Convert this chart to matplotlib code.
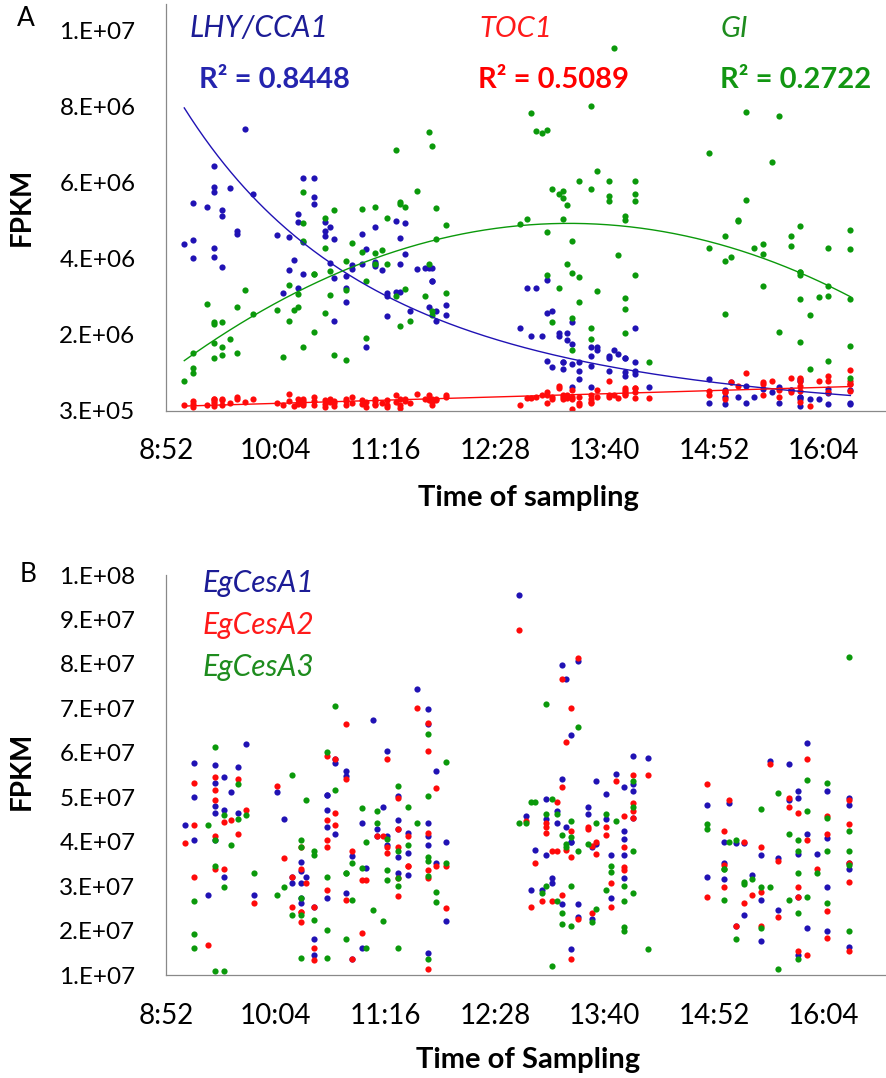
import numpy as np
import matplotlib
matplotlib.use("Agg")
import matplotlib.pyplot as plt

plt.rcParams['font.family'] = ['Lato', 'DejaVu Sans']
nan = np.nan

# ---------------- Panel A: clock genes (FPKM, millions) ----------------
a_time = [
    9.08, 9.18, 9.18, 9.18, 9.33, 9.41, 9.41, 9.41, 9.41, 9.41, 9.49, 9.49, 9.49,
    9.58, 9.66, 9.66, 9.75, 9.83,
    10.09, 10.16, 10.23, 10.23, 10.28, 10.33, 10.33, 10.33, 10.38, 10.38, 10.38, 10.38,
    10.50, 10.50, 10.50, 10.62, 10.62, 10.62, 10.67, 10.67, 10.72, 10.72, 10.72,
    10.85, 10.85, 10.85, 10.92, 10.92, 11.02, 11.02, 11.07, 11.07,
    11.17, 11.17, 11.17, 11.17, 11.24, 11.30, 11.30, 11.30, 11.40, 11.40,
    11.44, 11.44, 11.44, 11.50, 11.50, 11.55, 11.63, 11.72, 11.76, 11.76,
    11.79, 11.79, 11.79, 11.84, 11.84, 11.94, 11.94,
    12.75, 12.83, 12.88, 12.93, 12.99, 13.05, 13.05, 13.05, 13.11, 13.11,
    13.18, 13.18, 13.22, 13.22, 13.22, 13.27, 13.27, 13.32, 13.32, 13.32, 13.32,
    13.40, 13.40, 13.40, 13.53, 13.53, 13.53, 13.53, 13.60, 13.60,
    13.73, 13.73, 13.73, 13.78, 13.83, 13.90, 13.90, 13.90, 13.90, 13.90,
    14.01, 14.01, 14.01, 14.01, 14.17,
    14.82, 14.82, 15.00, 15.00, 15.00, 15.06, 15.14, 15.14, 15.23, 15.23, 15.31,
    15.41, 15.41, 15.41, 15.51, 15.59, 15.59, 15.72, 15.72,
    15.82, 15.82, 15.82, 15.82, 15.82, 15.82, 15.93, 15.93, 16.03,
    16.13, 16.13, 16.13, 16.13, 16.37, 16.37, 16.37, 16.37, 16.37,
]
lhy_cca1 = [
    4.68, 5.76, 4.79, 4.32, 5.65, 6.74, 6.19, 6.05, 4.58, 4.35, 5.57, 5.41, 4.07,
    6.17, 5.03, 4.94, 7.71, 5.99,
    4.92, 3.39, 4.88, 3.99, 4.27, 5.47, 5.27, 3.53, 6.42, 4.74, 3.90, nan,
    6.42, 5.93, 5.73, 5.27, 5.03, 4.90, 5.14, 4.19, 4.83, 3.78, 2.67,
    3.84, 3.53, 3.16, 4.02, 4.13, 4.16, 4.95, 4.56, 1.98,
    4.10, 4.16, 4.21, 5.14, 3.99, 3.33, 3.39, 2.79, 5.28, 3.41,
    4.16, 4.84, 3.41, 4.42, 5.24, 2.92, 4.02, 4.06, 4.06, 3.04,
    4.06, 3.71, 3.71, 2.92, 2.65, 2.83, 3.09,
    2.48, 3.52, 2.27, 3.52, 2.27, 3.74, 2.86, 1.62, 2.91, 1.45,
    2.27, 2.35, 1.58, 1.58, 1.40, 2.35, 2.16, 2.64, 2.06, 1.52, 0.92,
    1.58, 1.35, 1.13, 1.98, 1.73, 1.47, 0.92, 1.98, 1.89,
    1.73, 1.68, 1.35, 1.89, 1.78, 1.68, 1.68, 1.31, 1.22, nan,
    2.48, 1.58, 1.35, 1.27, 0.92,
    1.13, 0.51, 0.85, 0.65, 0.48, 1.05, 0.65, nan, 0.96, 0.51, 0.65,
    0.88, nan, nan, 0.79, 0.93, 0.51, 0.85, 0.85,
    1.13, 1.09, 0.60, 0.65, 0.43, 0.65, 0.60, nan, 0.60,
    0.88, 0.76, 0.48, nan, 0.85, 0.51, 0.48, nan, nan,
]
toc1 = [
    0.45, 0.48, 0.40, 0.55, 0.46, 0.50, 0.62, 0.55, 0.42, 0.60, 0.58, 0.62, 0.44,
    0.50, 0.65, 0.60, 0.52, 0.61,
    0.50, 0.44, 0.55, 0.73, 0.42, 0.50, 0.60, 0.47, 0.50, 0.56, 0.45, 0.62,
    0.55, 0.45, 0.66, 0.48, 0.58, 0.40, 0.52, 0.60, 0.42, 0.56, 0.50,
    0.55, 0.45, 0.60, 0.50, 0.65, 0.48, 0.58, 0.52, 0.40,
    0.60, 0.45, 0.55, 0.48, 0.50, 0.45, 0.58, 0.40, 0.70, 0.52,
    0.46, 0.60, 0.36, 0.62, 0.55, 0.50, 0.73, 0.60, 0.72, 0.58,
    0.45, 0.62, 0.52, 0.58, 0.62, 0.70, 0.66,
    0.44, 0.63, 0.63, 0.67, 0.72, 0.78, 0.49, 0.72, 0.67, 0.60,
    0.89, 0.96, 0.67, 0.72, 0.60, 0.63, 0.70, 0.85, 0.35, 0.67, 0.60,
    0.67, 0.49, 0.44, 0.54, 0.49, 0.60, 0.70, 0.85, 0.67,
    1.09, 0.72, 0.65, 0.72, 0.63, 0.89, 0.85, 0.75, 0.80, 0.70,
    0.89, 0.89, 0.63, 0.80, 0.63,
    0.82, 0.72, 0.79, 0.79, 0.60, 1.05, 0.96, nan, 1.28, nan, nan,
    1.05, 1.01, 0.72, 1.09, 0.85, 0.65, 0.79, 1.15,
    1.09, 1.15, 0.96, 0.82, 0.54, nan, 0.43, nan, 1.09,
    1.09, 1.22, 0.79, nan, 1.38, 1.09, 1.01, 1.01, 0.82,
]
gi = [
    1.08, 1.81, 1.42, 1.30, 3.10, 2.63, 2.58, 2.09, 1.68, nan, 2.63, 1.98, 1.76,
    2.19, 3.02, 1.81, 3.47, 2.84,
    2.95, 1.70, 3.61, 2.67, 2.95, 3.37, 3.02, nan, 6.05, 5.23, 4.77, 1.98,
    3.90, 3.90, 2.36, 5.38, 4.57, 2.88, 3.98, 3.34, 5.57, 1.76, nan,
    4.25, 3.48, 1.63, 4.72, nan, 4.48, 5.60, 3.71, 2.20,
    5.67, 4.44, 4.16, nan, 4.52, 5.36, 4.16, nan, 7.15, 3.33,
    5.73, 5.78, 2.53, 5.65, 3.51, 2.65, 6.08, 3.33, 4.16, 7.62,
    7.27, 2.92, 2.83, 5.63, 4.83, 5.19, 3.39,
    5.21, 5.35, 8.14, 7.66, 7.60, 7.69, 4.99, 3.87, 6.12, 2.64,
    6.01, 3.53, 6.07, 5.89, 5.35, 5.72, 4.15, 4.77, 3.93, 2.75, 1.89,
    6.34, 3.82, 3.16, 8.31, 6.12, 2.48, 2.19, 6.61, 3.44,
    6.34, 5.95, 5.81, 9.84, 4.40, 5.41, 5.32, 3.27, 2.98, 2.35,
    6.34, 6.01, 5.81, 3.87, 1.58,
    7.07, 4.58, 4.89, 4.23, 2.85, 4.34, 5.32, 5.28, 8.15, 5.84, 4.58,
    4.69, 4.41, 3.59, 6.84, 8.06, 2.36, 4.89, 4.63,
    3.86, 3.95, 3.95, 3.23, 2.10, 5.17, 2.81, 1.41, 3.28,
    3.59, 3.33, 4.58, 1.60, 5.05, 4.55, 3.23, 2.00, 1.15,
]

# ---------------- Panel B: cellulose synthase genes (FPKM, millions) ----------------
b_time = [
    9.09, 9.19, 9.19, 9.19, 9.34, 9.42, 9.42, 9.42, 9.42, 9.42, 9.51, 9.51, 9.51,
    9.59, 9.67, 9.67, 9.76, 9.84,
    10.10, 10.17, 10.26, 10.26, 10.36, 10.36, 10.36, 10.36, 10.36, 10.41,
    10.50, 10.50, 10.50, 10.64, 10.64, 10.64, 10.64, 10.64, 10.73, 10.73, 10.73,
    10.85, 10.85, 10.85, 10.92, 10.92, 11.02, 11.02, 11.07, 11.07, 11.15,
    11.19, 11.19, 11.25, 11.30, 11.30, 11.30, 11.42, 11.42, 11.42, 11.42, 11.42,
    11.53, 11.53, 11.53, 11.63, 11.75, 11.75, 11.75, 11.75, 11.75, 11.75,
    11.84, 11.84, 11.94, 11.94,
    12.74, 12.82, 12.88, 12.92, 12.99, 13.04, 13.04, 13.04, 13.10, 13.10,
    13.16, 13.16, 13.21, 13.21, 13.21, 13.26, 13.26, 13.31, 13.31, 13.31, 13.31,
    13.39, 13.39, 13.39, 13.50, 13.50, 13.54, 13.54, 13.59, 13.59, 13.70, 13.70,
    13.75, 13.75, 13.81, 13.89, 13.89, 13.89, 13.89, 13.89,
    13.99, 13.99, 13.99, 13.99, 14.15,
    14.80, 14.80, 14.99, 14.99, 14.99, 15.04, 15.12, 15.12, 15.21, 15.21, 15.29,
    15.39, 15.39, 15.39, 15.49, 15.58, 15.58, 15.70, 15.70,
    15.80, 15.80, 15.80, 15.80, 15.80, 15.89, 15.89, 15.89, 16.01,
    16.11, 16.11, 16.11, 16.11, 16.35, 16.35, 16.35, 16.35, 16.35,
]
egcesa1 = [
    43.7, 57.8, 50.1, 40.3, 28.1, 57.2, 53.2, 48.1, 46.4, 40.3, 54.6, 47.1, 32.0,
    51.2, 56.8, 46.4, 62.0, 28.1,
    51.2, 45.1, 32.0, 30.6, 35.4, 33.4, 30.6, 27.3, 26.2, 32.0,
    25.2, 18.0, 14.6, 50.5, 50.5, 47.1, 43.4, 27.3, 58.5, 57.6, 41.8,
    55.8, 54.7, 28.4, 36.8, 13.7, 44.1, 16.1, 34.1, nan, 67.4,
    42.8, 41.3, 47.8, 60.3, 41.3, 39.3, 44.8, 42.8, 50.3, 36.5, 33.0,
    42.0, 37.4, 32.6, 74.4, 69.8, 66.4, 44.1, 41.3, 39.3, 14.9,
    55.8, 35.2, 39.9, 22.2,
    95.6, 45.7, 29.2, 38.2, 29.2, 49.5, 45.0, 36.9, 31.8, 30.6,
    47.0, 44.1, 79.8, 54.1, 26.0, 76.7, 43.3, 63.9, 40.0, 40.0, 15.9,
    80.6, 26.0, 23.0, 47.7, 46.3, 38.7, 22.6, 53.7, 39.4, 50.7, 45.0,
    36.9, 27.3, 55.3, 52.3, 42.4, 40.6, 36.9, 31.8,
    52.9, 51.5, 59.3, 45.4, 58.8,
    48.2, 32.1, 39.9, 35.1, 31.6, 48.8, 39.6, 21.1, 39.6, 23.5, 32.6,
    37.0, 26.8, 17.6, 58.2, 36.4, 24.6, 49.3, 57.4,
    49.9, 51.4, 37.2, 27.6, 14.6, 62.3, 41.7, 20.5, 37.2,
    51.4, 40.9, 29.9, 19.9, 49.9, 48.2, 35.1, 33.9, 16.4,
]
egcesa2 = [
    39.8, 53.2, 43.7, 32.0, 16.8, 54.6, 51.6, 49.3, 41.3, 33.9, 44.4, 33.9, nan,
    44.8, 54.2, 41.8, 47.1, 26.2,
    52.6, 36.3, 32.0, 25.2, 38.7, 33.9, 24.1, 24.1, 21.9, 30.6,
    25.2, 16.1, 13.4, 59.3, 44.8, 40.3, 38.7, 29.2, 58.5, 46.4, 43.7,
    66.4, 54.1, 26.8, 38.0, 13.7, 31.4, 19.4, 31.4, nan, nan,
    41.3, nan, 41.3, 58.5, 38.9, 37.4, 42.8, 49.9, 38.9, 31.9, 27.7,
    41.3, 34.6, 34.6, 70.1, 66.8, 60.3, 42.0, 33.6, 31.9, 11.3,
    52.0, 34.6, 34.6, 25.0,
    87.6, 44.6, 25.3, 35.2, 26.7, 44.1, 43.3, 41.9, 38.0, 26.7,
    49.0, 38.0, 76.7, 52.3, 27.9, 62.4, 38.2, 70.0, 42.4, 36.6, 13.6,
    81.3, 22.6, nan, 43.3, 42.9, 39.1, 24.0, 40.0, 37.2, 43.3, 41.5,
    30.6, 25.3, 53.7, 45.7, 38.7, 34.3, 33.6, nan,
    47.0, 48.6, 54.9, 45.4, 54.9,
    53.0, 27.6, 42.4, 34.7, 29.9, 49.3, 21.1, nan, 39.9, 26.3, 28.1,
    38.8, 28.7, 21.1, 57.4, 35.6, 23.1, 47.9, 49.9,
    46.4, 29.9, 27.6, 15.4, nan, 58.5, 40.4, 14.6, 33.9,
    45.7, 41.7, 24.3, 18.3, 49.3, 43.9, 35.1, 30.9, 15.4,
]
egcesa3 = [
    nan, 26.7, 19.2, 16.1, 43.7, 61.4, 40.3, 34.6, 10.9, nan, 45.9, 29.9, 10.9,
    39.3, 52.9, 45.1, 45.9, 33.0,
    28.1, 29.9, 55.0, 23.4, 40.3, 38.7, 27.3, 23.4, 13.9, 49.3,
    37.9, 37.0, 22.3, 60.2, 32.0, 20.2, 13.9, nan, 70.6, 51.6, nan,
    33.0, 33.0, 18.1, 35.2, 26.8, 47.6, 34.1, 39.9, 16.1, 24.6,
    47.0, 44.1, 22.2, 40.7, 33.6, 31.4, 38.0, 52.6, 30.0, 31.9, 16.1,
    39.3, 47.8, nan, 44.1, 64.3, 50.3, 36.5, 35.7, 32.3, 13.7,
    28.7, 26.4, 57.9, 35.2,
    44.1, 44.1, 49.0, 49.0, 28.5, 71.0, 46.3, 30.0, 49.5, 12.1,
    46.3, 26.7, 41.5, 24.0, 21.4, 39.4, 38.7, 44.6, 41.1, 30.0, 21.0,
    65.9, 38.0, nan, 39.4, nan, 21.9, nan, 44.1, 24.8, 46.3, 29.2,
    34.5, 33.1, 44.6, 30.0, 26.7, 20.7, 19.8, nan,
    38.0, 47.7, 53.7, 28.5, 15.9,
    43.9, 42.8, 33.9, 33.9, 26.8, 39.9, 40.4, 18.0, 30.9, 30.4, 31.6,
    47.4, 29.9, 20.5, 29.9, 50.9, 11.4, 41.7, 26.8,
    40.4, 37.9, 33.0, 23.9, 13.7, 53.8, 47.0, 27.6, 33.0,
    53.2, 45.3, 37.9, 26.3, 81.6, 42.4, 37.9, 34.7, 19.9,
]

# axis ticks (time in decimal hours)
x_ticks = [8.88, 10.08, 11.28, 12.48, 13.68, 14.88, 16.08]
x_tick_labels = ['8:52', '10:04', '11:16', '12:28', '13:40', '14:52', '16:04']
x_range = (8.88, 16.76)
a_y_ticks = [3e5, 2.3e6, 4.3e6, 6.3e6, 8.3e6, 1.03e7]
a_y_tick_labels = ['3.E+05', '2.E+06', '4.E+06', '6.E+06', '8.E+06', '1.E+07']
a_y_range = (3e5, 1.1e7)
b_y_ticks = [1e7 * k for k in range(1, 11)]
b_y_tick_labels = ['1.E+07', '2.E+07', '3.E+07', '4.E+07', '5.E+07',
                   '6.E+07', '7.E+07', '8.E+07', '9.E+07', '1.E+08']
b_y_range = (1e7, 1e8)

r2_labels = ['R² = 0.8448', 'R² = 0.5089', 'R² = 0.2722']

BLUE, RED, GREEN = '#2012B4', '#FF0A0A', '#0B990B'
BLUE_TXT, RED_TXT, GREEN_TXT = '#1C1C96', '#FF1A1A', '#1E8C1E'
SPINE = '#898989'

W, H = 886, 1078
fig = plt.figure(figsize=(W / 100, H / 100), dpi=100)


def fx(px):
    return px / W


def fy(py):
    return 1 - py / H


def style_axis(ax, yticks, ylabels, ylim):
    ax.set_xlim(*x_range)
    ax.set_ylim(*ylim)
    ax.set_xticks(x_ticks)
    ax.set_xticklabels(x_tick_labels)
    ax.set_yticks(yticks)
    ax.set_yticklabels(ylabels)
    for s in ('top', 'right'):
        ax.spines[s].set_visible(False)
    for s in ('left', 'bottom'):
        ax.spines[s].set_color(SPINE)
        ax.spines[s].set_linewidth(0.9)
    ax.tick_params(axis='both', length=0)
    ax.tick_params(axis='y', labelsize=17.5, pad=22)
    ax.tick_params(axis='x', labelsize=20, pad=20)
    ax.patch.set_alpha(0)


def dots(ax, t, v, color):
    t = np.asarray(t, float)
    v = np.asarray(v, float) * 1e6
    m = ~np.isnan(v)
    ax.scatter(t[m], v[m], s=20, color=color, linewidths=0, zorder=2)
    return t[m], v[m]


# ---------------- Panel A ----------------
axA = fig.add_axes([fx(166), fy(410.7), 1 - fx(166), (410.7 - 4) / H])
style_axis(axA, a_y_ticks, a_y_tick_labels, a_y_range)

tb, vb = dots(axA, a_time, lhy_cca1, BLUE)
tr, vr = dots(axA, a_time, toc1, RED)
tg, vg = dots(axA, a_time, gi, GREEN)

# trend lines: power (LHY/CCA1), linear (TOC1), 2nd-order polynomial (GI)
tt = np.linspace(min(a_time), max(a_time), 300)
pb = np.polyfit(np.log(tb), np.log(vb), 1)
axA.plot(tt, np.exp(np.polyval(pb, np.log(tt))), color=BLUE, lw=1.0, zorder=3)
pr = np.polyfit(tr, vr, 1)
axA.plot(tt, np.polyval(pr, tt), color=RED, lw=1.0, zorder=3)
pg = np.polyfit(tg, vg, 2)
axA.plot(tt, np.polyval(pg, tt), color=GREEN, lw=1.0, zorder=3)

fig.text(fx(190), fy(37), 'LHY/CCA1', style='italic', fontsize=21.5, color=BLUE_TXT,
         ha='left', va='baseline')
fig.text(fx(479), fy(37), 'TOC1', style='italic', fontsize=21, color=RED_TXT,
         ha='left', va='baseline')
fig.text(fx(721), fy(37), 'GI', style='italic', fontsize=21, color=GREEN_TXT,
         ha='left', va='baseline')
fig.text(fx(199), fy(88), r2_labels[0], fontweight='bold', fontsize=21, color='#2424AE',
         ha='left', va='baseline')
fig.text(fx(478), fy(88), r2_labels[1], fontweight='bold', fontsize=21, color='#FF0000',
         ha='left', va='baseline')
fig.text(fx(720), fy(88), r2_labels[2], fontweight='bold', fontsize=21, color='#129612',
         ha='left', va='baseline')

fig.text(fx(26), fy(19), 'A', fontsize=19, ha='center', va='center')
fig.text(fx(22), fy(207), 'FPKM', fontsize=20, fontweight='bold', rotation=90,
         ha='center', va='center')
fig.text(fx(528), fy(506), 'Time of sampling', fontsize=21, fontweight='bold',
         ha='center', va='baseline')

# ---------------- Panel B ----------------
axB = fig.add_axes([fx(166), fy(975), 1 - fx(166), (975 - 575) / H])
style_axis(axB, b_y_ticks, b_y_tick_labels, b_y_range)

dots(axB, b_time, egcesa1, BLUE)
dots(axB, b_time, egcesa2, RED)
dots(axB, b_time, egcesa3, GREEN)

fig.text(fx(203), fy(592), 'EgCesA1', style='italic', fontsize=21.5, color=BLUE_TXT,
         ha='left', va='baseline')
fig.text(fx(203), fy(634), 'EgCesA2', style='italic', fontsize=21.5, color=RED_TXT,
         ha='left', va='baseline')
fig.text(fx(203), fy(676), 'EgCesA3', style='italic', fontsize=21.5, color=GREEN_TXT,
         ha='left', va='baseline')

fig.text(fx(28), fy(574), 'B', fontsize=19, ha='center', va='center')
fig.text(fx(22), fy(771), 'FPKM', fontsize=20, fontweight='bold', rotation=90,
         ha='center', va='center')
fig.text(fx(528), fy(1068), 'Time of Sampling', fontsize=21, fontweight='bold',
         ha='center', va='baseline')

fig.savefig('out.png', dpi=100)
